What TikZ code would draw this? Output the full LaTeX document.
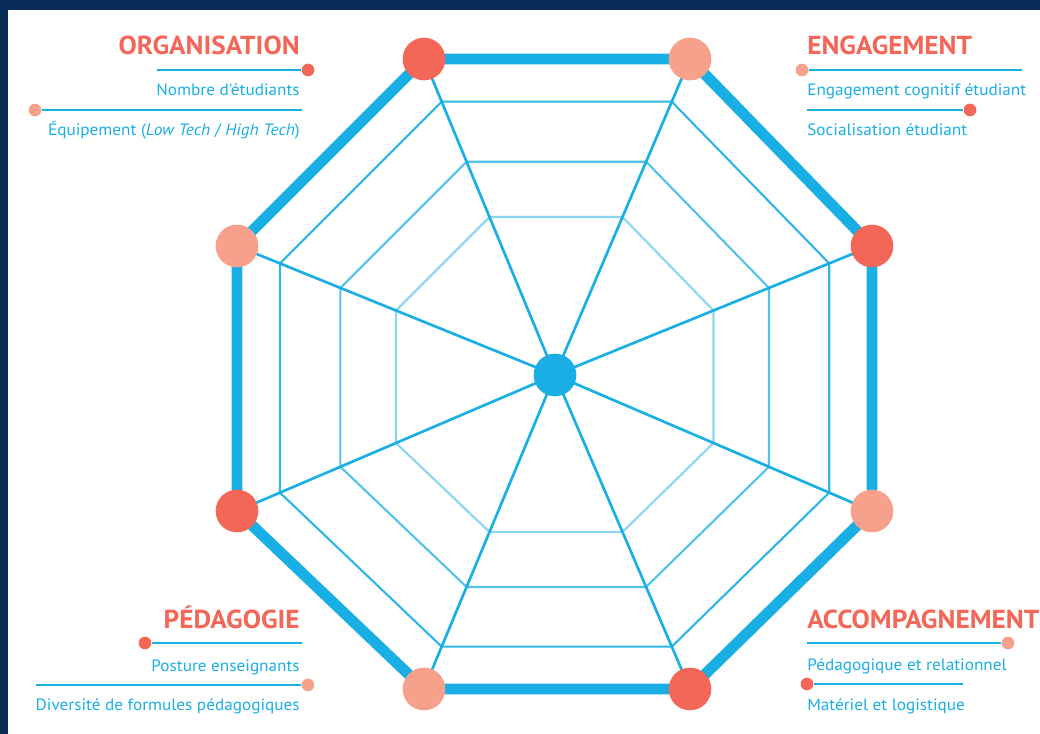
\documentclass[tikz,border=0pt]{standalone}
\usepackage{fontspec}
\setmainfont{PT Sans}
\newfontfamily\labelfont[FakeStretch=1.05]{PT Sans}
\usetikzlibrary{calc}
\definecolor{navy}{HTML}{062C57}
\definecolor{sky}{HTML}{1AAFE4}
\definecolor{coral}{HTML}{F26757}
\definecolor{salmon}{HTML}{F7A08B}
\tikzset{
  spoke/.style={draw=sky, line width=2pt},
  ring/.style={draw=sky, line width=1.6pt},
  outer/.style={draw=sky, line width=8.2pt, line join=round},
  bigdot/.style={circle, minimum size=32pt, inner sep=0pt, draw=none},
  smalldot/.style={circle, minimum size=9.5pt, inner sep=0pt, draw=none},
  labelline/.style={draw=sky, line width=2.2pt},
  heading/.style={inner sep=0pt, text=coral, font=\labelfont\fontsize{19.5}{21}\selectfont\bfseries},
  item/.style={inner sep=0pt, text=sky, font=\labelfont\fontsize{12.3}{14}\selectfont},
}
\begin{document}
\begin{tikzpicture}[x=0.75pt,y=-0.75pt]
\useasboundingbox (0,0) rectangle (1040,734);
\fill[white] (0,0) rectangle (1040,734);
\fill[navy] (0,0) rectangle (1040,10);
\fill[navy] (0,0) rectangle (8,734);

% geometry
\coordinate (c) at (555,375);
\coordinate (p1) at (424,59);
\coordinate (p2) at (690,59);
\coordinate (p3) at (872,246);
\coordinate (p4) at (872,511);
\coordinate (p5) at (690,689);
\coordinate (p6) at (424,689);
\coordinate (p7) at (237,511);
\coordinate (p8) at (237,246);

% inner rings
\foreach \f/\op in {0.5/0.5,0.675/0.75,0.865/0.9}{
  \draw[ring, draw opacity=\op] ($(c)!\f!(p1)$) -- ($(c)!\f!(p2)$) -- ($(c)!\f!(p3)$) -- ($(c)!\f!(p4)$)
    -- ($(c)!\f!(p5)$) -- ($(c)!\f!(p6)$) -- ($(c)!\f!(p7)$) -- ($(c)!\f!(p8)$) -- cycle;
}
% spokes
\foreach \i in {1,...,8}{ \draw[spoke] (c) -- (p\i); }
% outer octagon
\draw[outer] (p1) -- (p2) -- (p3) -- (p4) -- (p5) -- (p6) -- (p7) -- (p8) -- cycle;

% vertex dots
\node[bigdot, fill=coral]  (v1) at (p1) {};
\node[bigdot, fill=salmon] (v2) at (p2) {};
\node[bigdot, fill=coral]  (v3) at (p3) {};
\node[bigdot, fill=salmon] (v4) at (p4) {};
\node[bigdot, fill=coral]  (v5) at (p5) {};
\node[bigdot, fill=salmon] (v6) at (p6) {};
\node[bigdot, fill=coral]  (v7) at (p7) {};
\node[bigdot, fill=salmon] (v8) at (p8) {};
\node[bigdot, fill=sky] (center) at (c) {};

% ORGANISATION
\node[heading, anchor=base east] (h1) at (300,55) {ORGANISATION};
\coordinate (o1) at (157,70);
\node[smalldot, fill=coral] (od1) at (308,70) {};
\draw[labelline] (o1) -- (od1);
\node[item, anchor=base east] (ot1) at (300,96) {Nombre d'étudiants};
\node[smalldot, fill=salmon] (od2) at (35,110) {};
\coordinate (o2) at (302,110);
\draw[labelline] (od2) -- (o2);
\node[item, anchor=base east] (ot2) at (300,136) {Équipement (\textit{Low Tech} / \textit{High Tech})};

% ENGAGEMENT
\node[heading, anchor=base west] (h2) at (807,55) {ENGAGEMENT};
\node[smalldot, fill=salmon] (ed1) at (802,70) {};
\coordinate (e1) at (1022,70);
\draw[labelline] (ed1) -- (e1);
\node[item, anchor=base west] (et1) at (807,96) {Engagement cognitif étudiant};
\coordinate (e2) at (807,110);
\node[smalldot, fill=coral] (ed2) at (970,110) {};
\draw[labelline] (e2) -- (ed2);
\node[item, anchor=base west] (et2) at (807,136) {Socialisation étudiant};

% PEDAGOGIE
\node[heading, anchor=base east] (h3) at (300,628) {PÉDAGOGIE};
\node[smalldot, fill=coral] (pd1) at (145,643) {};
\coordinate (pe1) at (302,643);
\draw[labelline] (pd1) -- (pe1);
\node[item, anchor=base east] (pt1) at (300,671) {Posture enseignants};
\coordinate (pe2) at (36,685);
\node[smalldot, fill=salmon] (pd2) at (308,685) {};
\draw[labelline] (pe2) -- (pd2);
\node[item, anchor=base east] (pt2) at (300,710) {Diversité de formules pédagogiques};

% ACCOMPAGNEMENT
\node[heading, anchor=base west] (h4) at (807,628) {ACCOMPAGNEMENT};
\coordinate (a1) at (807,643);
\node[smalldot, fill=salmon] (ad1) at (1008,643) {};
\draw[labelline] (a1) -- (ad1);
\node[item, anchor=base west] (at1) at (807,670) {Pédagogique et relationnel};
\node[smalldot, fill=coral] (ad2) at (807,684) {};
\coordinate (a2) at (963,684);
\draw[labelline] (ad2) -- (a2);
\node[item, anchor=base west] (at2) at (807,710) {Matériel et logistique};
\end{tikzpicture}
\end{document}
